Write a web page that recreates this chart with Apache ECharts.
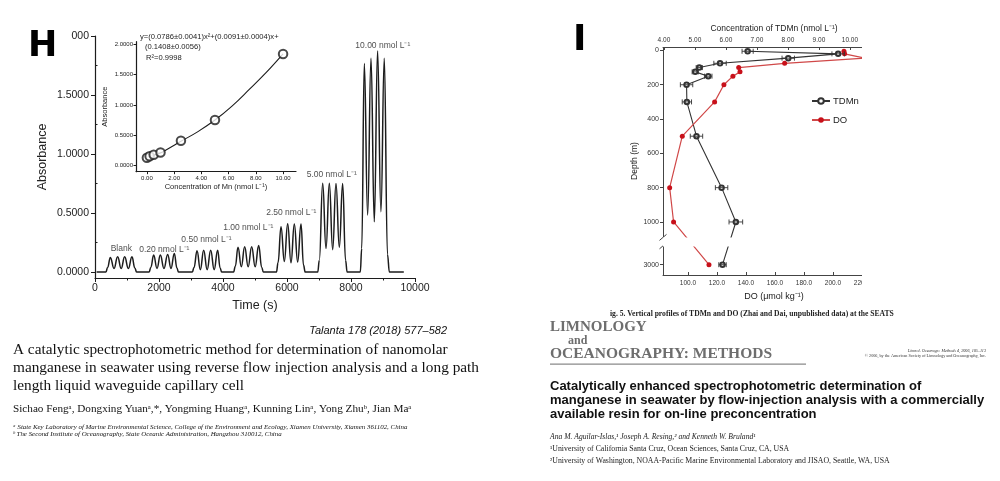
<!DOCTYPE html>
<html><head><meta charset="utf-8">
<script src="https://cdn.jsdelivr.net/npm/echarts@6.0.0/dist/echarts.min.js"></script>
<style>html,body{margin:0;padding:0;background:#fff}#c{width:1000px;height:481px}</style>
</head><body><div id="c"></div>
<script>
// ---------- Panel H: FIA signal trace (time s, absorbance) ----------
const traceStart = [[50,0],[300,0]];
const grpBlank = [[340,0],[395,0.04],[479,0.124],[594,0.031],[708,0.13],[818,0.031],[927,0.13],[1042,0.031],[1156,0.13],[1245,0.035],[1300,0]];
const grp020 = [[1690,0],[1745,0.04],[1833,0.144],[1938,0.031],[2042,0.144],[2156,0.031],[2271,0.15],[2375,0.031],[2479,0.158],[2560,0.035],[2610,0]];
const grp050 = [[3040,0],[3095,0.04],[3188,0.18],[3292,0.02],[3396,0.186],[3505,0.02],[3615,0.186],[3724,0.02],[3833,0.186],[3910,0.035],[3960,0]];
const grp100 = [[4330,0],[4385,0.05],[4469,0.21],[4573,0.045],[4677,0.215],[4786,0.045],[4896,0.215],[5005,0.045],[5115,0.226],[5210,0.04],[5260,0]];
const grp250 = [[5670,0],[5720,0.08],[5813,0.384],[5917,0.09],[6021,0.41],[6125,0.08],[6229,0.407],[6333,0.085],[6438,0.407],[6515,0.06],[6570,0]];
const grp500 = [[6960,0],[7010,0.1],[7115,0.752],[7219,0.2],[7323,0.752],[7427,0.19],[7531,0.75],[7635,0.21],[7739,0.75],[7830,0.1],[7880,0]];
const grp1000 = [[8290,0],[8335,0.2],[8416,1.768],[8520,0.483],[8625,1.811],[8728,0.426],[8831,1.873],[8935,0.511],[9040,1.811],[9140,0.15],[9200,0]];
const traceEnd = [[9650,0]];
const groupLabels = ['Blank','0.20 nmol L⁻¹','0.50 nmol L⁻¹','1.00 nmol L⁻¹','2.50 nmol L⁻¹','5.00 nmol L⁻¹','10.00 nmol L⁻¹'];
const groupLabelTime = [822,2166,3484,4790,6134,7400,8994];
const groupLabelAbs = [0.195,0.186,0.271,0.373,0.50,0.822,1.915];
const mainYTicks = [0,0.5,1.0,1.5,2.0];
const mainYMinor = [0.25,0.75,1.25,1.75];

// ---------- Panel H inset: calibration ----------
const calConc = [0,0.2,0.5,1.0,2.5,5.0,10.0];
const calAbs = [0.13,0.155,0.18,0.215,0.41,0.752,1.837];
const fitConc = [0,1,1.5,2.5,3.75,5,6.25,7.5,8.75,10];
const fitAbs = [0.14,0.21,0.27,0.40,0.56,0.75,0.98,1.25,1.53,1.84];
const insetXTicks = [0,2,4,6,8,10];
const insetYTicks = [0,0.5,1.0,1.5,2.0];

// ---------- Panel I: vertical profiles ----------
const depth = [5,20,45,75,100,125,150,200,300,500,800,1000,3000];
const tdmn = [6.70,9.62,8.01,5.81,5.14,5.01,5.43,4.73,4.74,5.05,5.86,6.32,5.89];
const tdmnErr = [0.18,0.2,0.2,0.2,0.1,0.1,0.12,0.2,0.15,0.2,0.2,0.22,0.12];
const doDepth = [5,20,45,75,100,125,150,200,300,500,800,1000,3000];
const doVal = [207.6,208,222,166.7,135,135.9,131,124.8,118.4,96.1,87.4,90.1,114.5];
const depthTicks = [0,200,400,600,800,1000,3000];
const depthMinor = [100,300,500,700,900];
const tdmnTicks = [4,5,6,7,8,9,10,11];
const doTicks = [100,120,140,160,180,200,220];
const depthBreak = [1090, 2890];

const trace = [].concat(traceStart,grpBlank,grp020,grp050,grp100,grp250,grp500,grp1000,traceEnd);
const INK = '#1c1c1c';
const SANS = '"Liberation Sans", Arial, sans-serif';
const NARROW = '"Liberation Sans Narrow", "Liberation Sans", sans-serif';
const SERIF = '"Liberation Serif", "Times New Roman", serif';

const chart = echarts.init(document.getElementById('c'), null, {renderer:'canvas'});

let gid = 0;
function txt(text, x, y, font, o) {
  o = o || {};
  return {id:'t'+(gid++), type:'text', x:x, y:y, rotation:o.rot||0, z:o.z||50, silent:true,
    style:{text:text, font:font, fill:o.fill||'#111', align:o.align||'left', verticalAlign:o.va||'middle',
      backgroundColor:o.bg, padding:o.pad}};
}

const axLine = {show:true, onZero:false, lineStyle:{color:INK, width:1.2}};
const plain = v => String(v);

const option = {
  animation:false,
  backgroundColor:'#fff',
  grid:[
    {left:95, top:36, width:320, height:242},
    {left:136, top:41.7, width:160, height:130},
    {left:663, top:47, width:222, height:228}
  ],
  legend:{
    data:['TDMn','DO'], orient:'vertical', left:811, top:96, padding:0, itemWidth:18, itemHeight:7, itemGap:9,
    textStyle:{fontFamily:SANS, fontSize:9.5, color:'#222', padding:[0,0,0,-2]}
  },
  xAxis:[
    {gridIndex:0, type:'value', min:0, max:10000, interval:2000, position:'bottom',
      axisLine:axLine, axisTick:{show:true, length:4, lineStyle:{color:INK}},
      minorTick:{show:true, splitNumber:2, length:2.5, lineStyle:{color:INK}},
      splitLine:{show:false}, axisLabel:{formatter:plain, fontFamily:SANS, fontSize:10.5, color:'#222', margin:5},
      name:'Time (s)', nameLocation:'middle', nameGap:21, nameTextStyle:{fontFamily:SANS, fontSize:12.5, color:'#222'}},
    {gridIndex:1, type:'value', min:-0.8, max:10.95, position:'bottom',
      axisLine:axLine, axisTick:{show:true, length:2.5, customValues:insetXTicks, lineStyle:{color:INK}},
      splitLine:{show:false},
      axisLabel:{customValues:insetXTicks, formatter:v=>v.toFixed(2), fontFamily:SANS, fontSize:6, color:'#222', margin:4},
      name:'Concentration of Mn (nmol L⁻¹)', nameLocation:'middle', nameGap:10, nameTextStyle:{fontFamily:SANS, fontSize:7.5, color:'#222'}},
    {gridIndex:2, type:'value', min:3.97, max:3.97+222/31, position:'top',
      axisLine:{show:true, onZero:false, lineStyle:{color:'#444', width:1}},
      axisTick:{show:true, inside:true, length:3, customValues:tdmnTicks, lineStyle:{color:'#444'}},
      splitLine:{show:false},
      axisLabel:{customValues:tdmnTicks, formatter:v=>v.toFixed(2), fontFamily:SANS, fontSize:6.5, color:'#333', margin:3},
      name:'Concentration of TDMn (nmol L⁻¹)', nameLocation:'middle', nameGap:14, nameTextStyle:{fontFamily:SANS, fontSize:8.5, color:'#222'}},
    {gridIndex:2, type:'value', min:82.8, max:82.8+222/1.45, position:'bottom',
      axisLine:{show:true, onZero:false, lineStyle:{color:'#444', width:1}},
      axisTick:{show:true, inside:true, length:3, customValues:doTicks, lineStyle:{color:'#444'}},
      splitLine:{show:false},
      axisLabel:{customValues:doTicks, formatter:v=>v.toFixed(1), fontFamily:SANS, fontSize:6.5, color:'#333', margin:5},
      name:'DO (μmol kg⁻¹)', nameLocation:'middle', nameGap:17, nameTextStyle:{fontFamily:SANS, fontSize:9, color:'#222'}}
  ],
  yAxis:[
    {gridIndex:0, type:'value', min:-0.05, max:2.0,
      axisLine:axLine, axisTick:{show:true, length:4, customValues:mainYTicks, lineStyle:{color:INK}},
      splitLine:{show:false},
      axisLabel:{customValues:mainYTicks, formatter:v=>v.toFixed(4), fontFamily:SANS, fontSize:10.5, color:'#222', margin:6},
      name:'Absorbance', nameLocation:'middle', nameGap:46, nameTextStyle:{fontFamily:SANS, fontSize:12.5, color:'#222'}},
    {gridIndex:0, type:'value', min:-0.05, max:2.0, axisLine:{show:false},
      axisTick:{show:true, length:2.5, customValues:mainYMinor, lineStyle:{color:INK}},
      axisLabel:{show:false}, splitLine:{show:false}},
    {gridIndex:1, type:'value', min:-0.1, max:2.04,
      axisLine:axLine, axisTick:{show:true, length:2.5, customValues:insetYTicks, lineStyle:{color:INK}},
      splitLine:{show:false},
      axisLabel:{customValues:insetYTicks, formatter:v=>v.toFixed(4), fontFamily:SANS, fontSize:6, color:'#222', margin:3},
      name:'Absorbance', nameLocation:'middle', nameGap:27, nameTextStyle:{fontFamily:SANS, fontSize:7.5, color:'#222'}},
    {gridIndex:2, type:'value', inverse:true, min:-20, max:3060,
      breaks:[{start:depthBreak[0], end:depthBreak[1], gap:'3.7%'}],
      breakArea:{show:true, expandOnClick:false, zigzagAmplitude:0, itemStyle:{color:'#fff', borderWidth:0, borderColor:'#fff', opacity:1}},
      axisLine:{show:true, onZero:false, lineStyle:{color:'#444', width:1}},
      axisTick:{show:true, length:3, customValues:depthTicks, lineStyle:{color:'#444'}},
      splitLine:{show:false},
      axisLabel:{customValues:depthTicks, formatter:plain, fontFamily:SANS, fontSize:7, color:'#333', margin:4},
      name:'Depth (m)', nameLocation:'middle', nameGap:22, nameTextStyle:{fontFamily:SANS, fontSize:8.5, color:'#222'}},
    {gridIndex:2, type:'value', inverse:true, min:-20, max:3060,
      breaks:[{start:depthBreak[0], end:depthBreak[1], gap:'3.7%'}],
      breakArea:{show:false},
      axisLine:{show:false}, axisTick:{show:true, length:2, customValues:depthMinor, lineStyle:{color:'#444'}},
      axisLabel:{show:false}, splitLine:{show:false}}
  ],
  series:[
    {name:'trace', type:'line', xAxisIndex:0, yAxisIndex:0, data:trace, showSymbol:false, smooth:0.45, smoothMonotone:'x',
      lineStyle:{color:INK, width:1.5}, z:3},
    {name:'labels', type:'scatter', xAxisIndex:0, yAxisIndex:0, symbolSize:0,
      data:groupLabelTime.map((t,i)=>({value:[t,groupLabelAbs[i]], name:groupLabels[i]})),
      label:{show:true, position:'inside', formatter:p=>p.name, fontFamily:NARROW, fontSize:8.5, color:'#222'}},
    {name:'fit', type:'line', xAxisIndex:1, yAxisIndex:2, data:fitConc.map((c,i)=>[c,fitAbs[i]]), showSymbol:false, smooth:0.4,
      lineStyle:{color:INK, width:1.1}},
    {name:'cal', type:'scatter', xAxisIndex:1, yAxisIndex:2, data:calConc.map((c,i)=>[c,calAbs[i]]), symbol:'emptyCircle', symbolSize:8.5,
      color:INK, itemStyle:{color:INK, borderColor:INK, borderWidth:0.9}, z:4},
    {name:'TDMn', type:'line', xAxisIndex:2, yAxisIndex:3, data:tdmn.map((v,i)=>[v,depth[i]]), symbol:'emptyCircle', symbolSize:4.5,
      itemStyle:{color:'#333', borderColor:'#333', borderWidth:0.9}, lineStyle:{color:'#333', width:1.1}, color:'#333', z:4},
    {name:'TDMnErr', type:'custom', xAxisIndex:2, yAxisIndex:3, data:tdmn.map((v,i)=>[v,depth[i],tdmnErr[i]]), z:5,
      renderItem:function(params, api){
        const x=api.value(0), y=api.value(1), e=api.value(2);
        const a=api.coord([x-e,y]), b=api.coord([x+e,y]);
        const st={stroke:'#333', lineWidth:0.9};
        return {type:'group', children:[
          {type:'line', shape:{x1:a[0],y1:a[1],x2:b[0],y2:b[1]}, style:st},
          {type:'line', shape:{x1:a[0],y1:a[1]-2.5,x2:a[0],y2:a[1]+2.5}, style:st},
          {type:'line', shape:{x1:b[0],y1:b[1]-2.5,x2:b[0],y2:b[1]+2.5}, style:st}
        ]};
      }},
    {name:'DO', type:'line', xAxisIndex:3, yAxisIndex:3, data:doVal.map((v,i)=>[v,doDepth[i]]), symbol:'circle', symbolSize:5,
      itemStyle:{color:'#c8101a'}, lineStyle:{color:'#d04848', width:1.2}, color:'#c8101a', z:4}
  ],
  graphic:[
    // panel letters
    txt('H', 24, 47, 'bold 35px "DejaVu Sans", sans-serif', {fill:'#000', bg:'#fff', pad:[2,14,2,4], z:60}),
    txt('I', 573, 41, 'bold 36px "DejaVu Sans", sans-serif', {fill:'#000', z:60}),
    // crop of panel I on the right
    {id:'crop', type:'rect', left:862, top:10, shape:{width:138, height:300}, style:{fill:'#fff'}, z:58, silent:true},
    // inset equation
    txt('y=(0.0786±0.0041)x²+(0.0091±0.0004)x+', 140, 36.5, '7.6px '+NARROW, {fill:'#222'}),
    txt('(0.1408±0.0056)', 145, 47.3, '7.6px '+NARROW, {fill:'#222'}),
    txt('R²=0.9998', 146, 58.3, '7.6px '+NARROW, {fill:'#222'}),
    // left paper text
    txt('Talanta 178 (2018) 577–582', 447, 331, 'italic 11px '+SANS, {align:'right', fill:'#111'}),
    txt('A catalytic spectrophotometric method for determination of nanomolar', 13, 350, '15.3px '+SERIF),
    txt('manganese in seawater using reverse flow injection analysis and a long path', 13, 368, '15.3px '+SERIF),
    txt('length liquid waveguide capillary cell', 13, 386, '15.3px '+SERIF),
    txt('Sichao Fengᵃ, Dongxing Yuanᵃ,*, Yongming Huangᵃ, Kunning Linᵃ, Yong Zhuᵇ, Jian Maᵃ', 13, 409, '11.2px '+SERIF),
    txt('ᵃ State Key Laboratory of Marine Environmental Science, College of the Environment and Ecology, Xiamen University, Xiamen 361102, China', 13, 427, 'italic 6.9px '+SERIF),
    txt('ᵇ The Second Institute of Oceanography, State Oceanic Administration, Hangzhou 310012, China', 13, 434.5, 'italic 6.9px '+SERIF),
    // right paper text
    txt('ig. 5. Vertical profiles of TDMn and DO (Zhai and Dai, unpublished data) at the SEATS', 610, 314, 'bold 7.6px '+SERIF, {fill:'#222'}),
    txt('LIMNOLOGY', 550, 327, 'bold 15px '+SERIF, {fill:'#6e6e6e'}),
    txt('and', 568, 340.5, 'bold 12px '+SERIF, {fill:'#6e6e6e'}),
    txt('OCEANOGRAPHY: METHODS', 550, 354, 'bold 15.5px '+SERIF, {fill:'#6e6e6e'}),
    {id:'rule', type:'rect', left:550, top:363.5, shape:{width:256, height:1.3}, style:{fill:'#8a8a8a'}, z:50, silent:true},
    txt('Limnol. Oceanogr.: Methods 4, 2006, 105–113', 986, 350.5, 'italic 4.2px '+SERIF, {align:'right', fill:'#333'}),
    txt('© 2006, by the American Society of Limnology and Oceanography, Inc.', 986, 356, '4.2px '+SERIF, {align:'right', fill:'#333'}),
    txt('Catalytically enhanced spectrophotometric determination of', 550, 386, 'bold 13px '+SANS, {fill:'#111'}),
    txt('manganese in seawater by flow-injection analysis with a commercially', 550, 400, 'bold 13px '+SANS, {fill:'#111'}),
    txt('available resin for on-line preconcentration', 550, 414, 'bold 13px '+SANS, {fill:'#111'}),
    txt('Ana M. Aguilar-Islas,¹ Joseph A. Resing,² and Kenneth W. Bruland¹', 550, 437, 'italic 7.6px '+SERIF, {fill:'#222'}),
    txt('¹University of California Santa Cruz, Ocean Sciences, Santa Cruz, CA, USA', 550, 449, '7.8px '+SERIF, {fill:'#222'}),
    txt('²University of Washington, NOAA-Pacific Marine Environmental Laboratory and JISAO, Seattle, WA, USA', 550, 461, '7.8px '+SERIF, {fill:'#222'})
  ]
};
chart.setOption(option);

// axis-break marks "//" on the depth axis, placed from the scale
(function(){
  const yA = chart.convertToPixel({yAxisIndex:3}, depthBreak[0]);
  const yB = chart.convertToPixel({yAxisIndex:3}, depthBreak[1]);
  const xL = chart.convertToPixel({xAxisIndex:2}, 3.97);
  chart.setOption({graphic:[
    {id:'brkBg', type:'rect', shape:{x:xL-4, y:Math.min(yA,yB), width:8, height:Math.abs(yB-yA)}, style:{fill:'#fff'}, z:56, silent:true},
    {id:'brk1', type:'line', shape:{x1:xL-3.5, y1:yA+3, x2:xL+3.5, y2:yA-3}, style:{stroke:'#444', lineWidth:1}, z:57, silent:true},
    {id:'brk2', type:'line', shape:{x1:xL-3.5, y1:yB+3, x2:xL+3.5, y2:yB-3}, style:{stroke:'#444', lineWidth:1}, z:57, silent:true}
  ]});
})();
</script></body></html>
